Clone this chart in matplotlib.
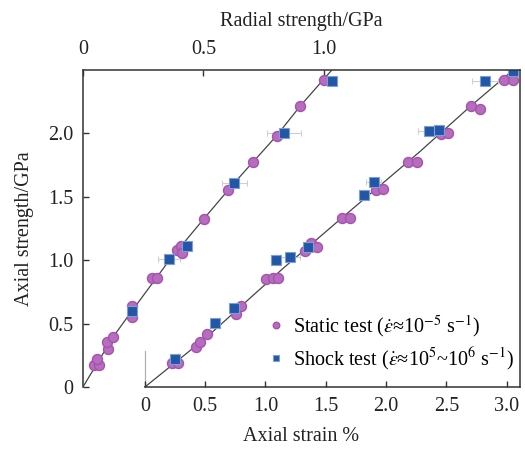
import matplotlib
matplotlib.use("Agg")
import matplotlib.pyplot as plt
import numpy as np

plt.rcParams["font.family"] = ["Liberation Serif", "DejaVu Serif"]
plt.rcParams["mathtext.fontset"] = "stix"
plt.rcParams["font.size"] = 14.5

# radial branch (top axis: radial strength, left axis: axial strength)
rad_static_x = [0.046, 0.068, 0.059, 0.104, 0.101, 0.125, 0.202, 0.202, 0.285, 0.307,
                0.389, 0.405, 0.411, 0.502, 0.602, 0.704, 0.804, 0.902, 1.000]
rad_static_y = [0.173, 0.173, 0.218, 0.302, 0.352, 0.394, 0.638, 0.554, 0.861, 0.861,
                1.079, 1.113, 1.057, 1.325, 1.549, 1.774, 1.979, 2.213, 2.415]
rad_shock_x = [0.205, 0.358, 0.430, 0.629, 0.834, 1.034]
rad_shock_y = [0.601, 1.006, 1.108, 1.609, 2.002, 2.409]
rad_shock_err = [0.0, 0.045, 0.0, 0.052, 0.072, 0.0]
rad_fit_x = [0.0, 0.059, 0.125, 0.203, 0.361, 0.502, 0.629, 0.804, 0.902, 1.033]
rad_fit_y = [0.0, 0.186, 0.394, 0.598, 1.004, 1.325, 1.609, 1.979, 2.213, 2.496]

# axial branch (bottom axis: axial strain %)
ax_static_x = [0.224, 0.274, 0.420, 0.459, 0.514, 0.752, 0.800, 1.003, 1.059, 1.103,
               1.324, 1.374, 1.424, 1.636, 1.700, 1.913, 1.973, 2.183, 2.253, 2.452,
               2.515, 2.703, 2.780, 2.977, 3.057]
ax_static_y = [0.189, 0.187, 0.317, 0.357, 0.417, 0.575, 0.639, 0.848, 0.858, 0.858,
               1.071, 1.131, 1.105, 1.328, 1.331, 1.554, 1.557, 1.772, 1.772, 1.992,
               1.998, 2.213, 2.187, 2.417, 2.420]
ax_shock_x = [0.251, 0.580, 0.735, 1.089, 1.206, 1.354, 1.816, 1.896, 2.355, 2.440, 2.822, 3.051]
ax_shock_y = [0.220, 0.506, 0.622, 1.002, 1.022, 1.105, 1.514, 1.617, 2.013, 2.026, 2.409, 2.490]
ax_shock_err = [0.0, 0.0, 0.0, 0.0, 0.083, 0.0, 0.0, 0.066, 0.091, 0.0, 0.108, 0.0]
ax_fit_x = [0.0, 0.514, 1.147, 1.633, 2.280, 2.703, 3.054]
ax_fit_y = [0.0, 0.394, 0.935, 1.331, 1.853, 2.213, 2.496]

PURPLE, PURPLE_E = "#b66dbe", "#a452ad"
BLUE, BLUE_E = "#2256a6", "#7d9fd4"
LINE, AXC = "#454545", "#333333"

fig = plt.figure(figsize=(5.25, 4.5), dpi=100)
ax = fig.add_axes([0.158, 0.14, 0.832, 0.7044])
ax2 = ax.twiny()

circ = dict(ls="none", marker="o", ms=7.2, mfc=PURPLE, mec=PURPLE_E, mew=1.0, zorder=3)
sq = dict(ls="none", marker="s", ms=6.6, mfc=BLUE, mec=BLUE_E, mew=0.8, zorder=4)

# axial branch
ax.plot(ax_fit_x, ax_fit_y, color=LINE, lw=0.9, zorder=2)
ax.plot([0, 0], [0, 0.28], color="#b0b0b0", lw=0.9, zorder=1)
ax.plot(ax_static_x, ax_static_y, **circ)
e = np.array(ax_shock_err)
m = e > 0
ax.errorbar(np.array(ax_shock_x)[m], np.array(ax_shock_y)[m], xerr=e[m], fmt="none",
            ecolor="#cfcfcf", elinewidth=0.8, capsize=2.5, capthick=0.8, zorder=2)
ax.plot(ax_shock_x, ax_shock_y, **sq)

# radial branch
ax2.plot(rad_fit_x, rad_fit_y, color=LINE, lw=0.9, zorder=2)
ax2.plot(rad_static_x, rad_static_y, **circ)
e = np.array(rad_shock_err)
m = e > 0
ax2.errorbar(np.array(rad_shock_x)[m], np.array(rad_shock_y)[m], xerr=e[m], fmt="none",
             ecolor="#cfcfcf", elinewidth=0.8, capsize=2.5, capthick=0.8, zorder=2)
ax2.plot(rad_shock_x, rad_shock_y, **sq)

ax.set_xlim(-0.514, 3.109)
ax.set_ylim(0, 2.496)
ax2.set_xlim(0, 1.813)

ax.set_xticks([0, 0.5, 1.0, 1.5, 2.0, 2.5, 3.0])
ax.set_xticklabels(["0", "0.5", "1.0", "1.5", "2.0", "2.5", "3.0"])
ax.set_yticks([0, 0.5, 1.0, 1.5, 2.0])
ax.set_yticklabels(["0", "0.5", "1.0", "1.5", "2.0"])
ax2.set_xticks([0, 0.5, 1.0])
ax2.set_xticklabels(["0", "0.5", "1.0"])

for a in (ax, ax2):
    a.tick_params(direction="in", length=4, width=1.0, color=AXC, labelcolor="#222", pad=6)
    for s in a.spines.values():
        s.set_color(AXC)
        s.set_linewidth(1.1)
ax.spines["top"].set_visible(False)
for k in ("left", "right", "bottom"):
    ax2.spines[k].set_visible(False)
ax.spines["bottom"].set_bounds(0, 3.109)
ax.tick_params(top=False, right=False, pad=7)
ax2.tick_params(pad=8)

ax.set_xlabel("Axial strain %", labelpad=8, color="#222")
ax.set_ylabel("Axial strength/GPa", labelpad=10, color="#222")
ax2.set_xlabel("Radial strength/GPa", labelpad=10, color="#222")

h1, = ax.plot([], [], **circ)
h2, = ax.plot([], [], **sq)
ax.legend([h1, h2],
          [r"Static test ($\dot{\varepsilon}$≈10$^{-5}$ s$^{-1}$)",
           r"Shock test ($\dot{\varepsilon}$≈10$^{5}$~10$^{6}$ s$^{-1}$)"],
          loc="lower right", frameon=False, markerscale=0.65, handletextpad=0.3,
          handlelength=1.0, labelspacing=0.3, borderaxespad=0.4,
          bbox_to_anchor=(1.023, -0.006))

fig.savefig("out.png", dpi=100)
